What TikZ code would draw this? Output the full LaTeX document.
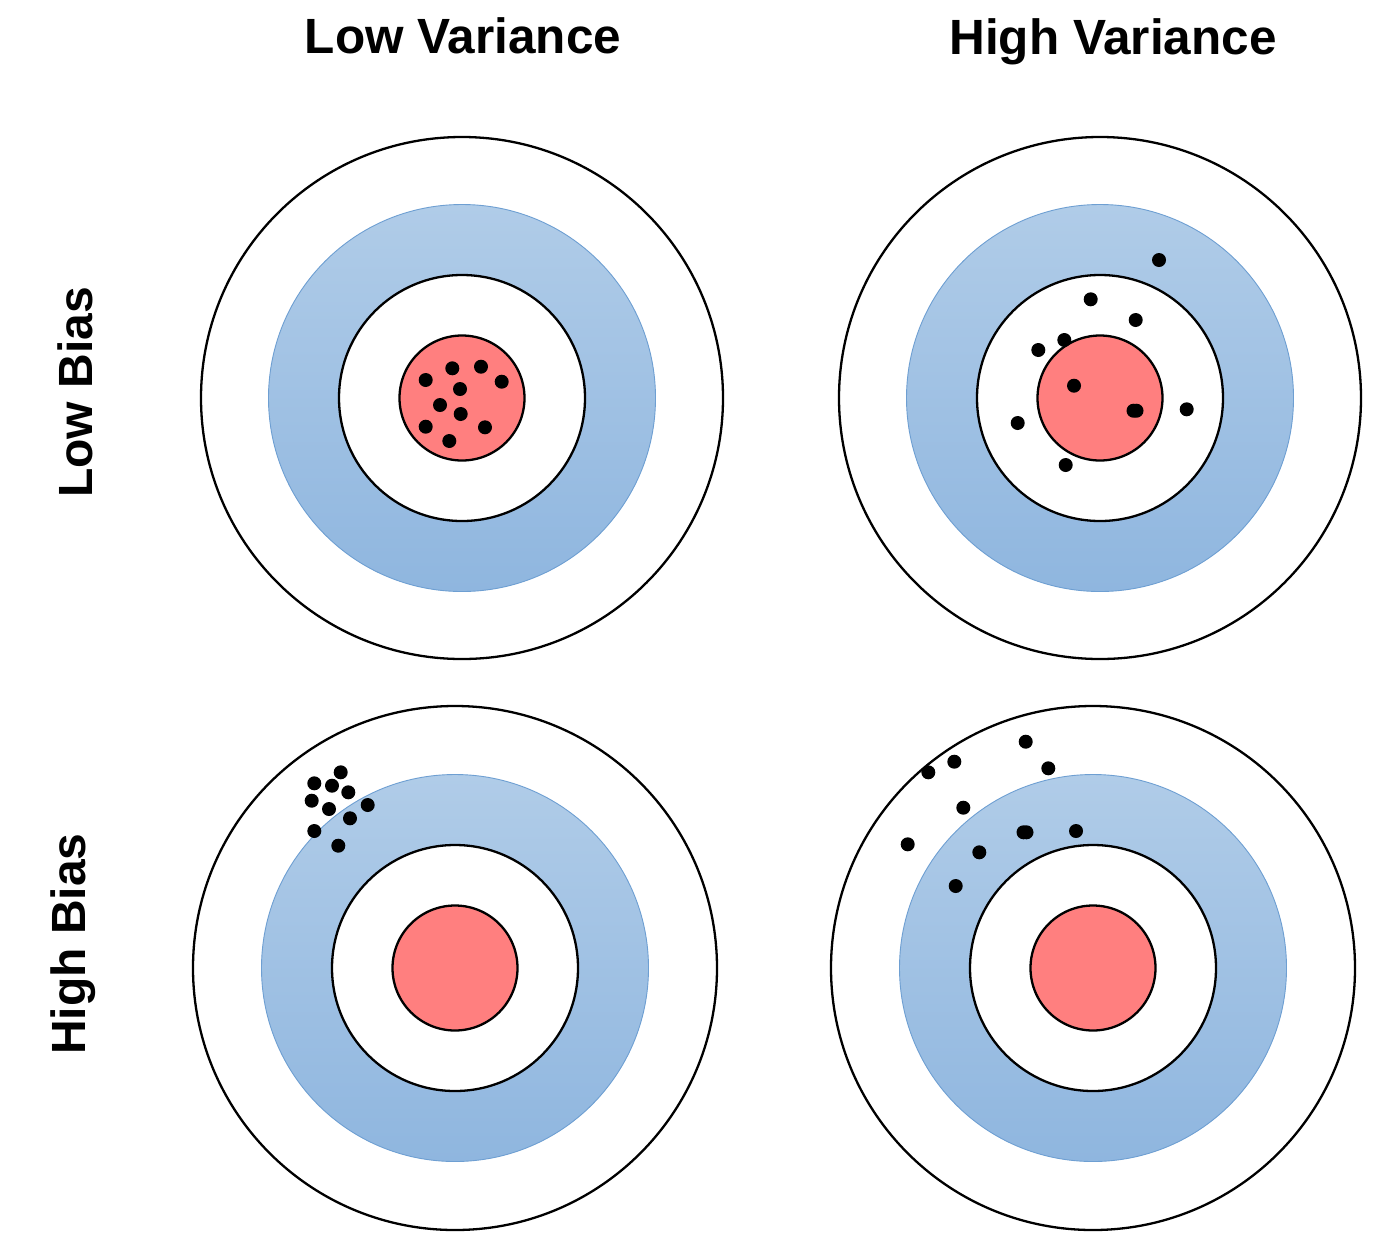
\documentclass[tikz,border=0pt]{standalone}
\usepackage{fontspec}
\setmainfont{Liberation Sans}
\definecolor{bluetop}{HTML}{B0CCE8}
\definecolor{bluebot}{HTML}{8FB6DF}
\definecolor{blueedge}{HTML}{6E9FD2}
\definecolor{redfill}{HTML}{FF7F7F}
\tikzset{
  ring/.style={draw=black, line width=2.3pt},
  blueband/.style={top color=bluetop, bottom color=bluebot, even odd rule},
  bluerim/.style={draw=blueedge, line width=0.9pt},
  dot/.style={fill=black},
  head/.style={font=\bfseries\fontsize{49.5}{60}\selectfont, inner sep=0pt},
  sidehead/.style={font=\bfseries\fontsize{48}{58}\selectfont, inner sep=0pt},
}
\newcommand{\mytarget}[3]{%
  \draw[ring, fill=white] (#1,#2) circle (#3);
  \shade[blueband] (#1,#2) circle (193.5) (#1,#2) circle (123);
  \draw[bluerim] (#1,#2) circle (193.5);
  \draw[ring, fill=white] (#1,#2) circle (123);
  \draw[ring, fill=redfill] (#1,#2) circle (62.5);
}
\begin{document}
\begin{tikzpicture}[x=1pt, y=-1pt]
\useasboundingbox (0,0) rectangle (1400,1251);
\fill[white] (0,0) rectangle (1400,1251);

\mytarget{462}{398}{261}
\mytarget{1100}{398}{261}
\mytarget{455}{968}{262}
\mytarget{1093}{968}{262}

% top-left dots
\foreach \px/\py in {425.7/380, 452.3/368.3, 481/366.7, 501.7/381.7, 460/389, 440/405, 460.7/414, 425.7/426.7, 485/427.3, 449.3/441}
  \fill[dot] (\px,\py) circle (7);

% top-right dots
\foreach \px/\py in {1159/260, 1090.7/299.3, 1135.7/320, 1064.3/340, 1038.3/350, 1074/385.7, 1133.5/410.7, 1136.5/410.7, 1186.7/409.3, 1017.7/423, 1065.7/465}
  \fill[dot] (\px,\py) circle (7);

% bottom-left dots
\foreach \px/\py in {340.7/772.3, 314.3/783.3, 332/785.7, 348.3/792.3, 311.7/800.7, 329/809, 367.7/805, 350/818.3, 314.3/831, 338.3/845.7}
  \fill[dot] (\px,\py) circle (7);

% bottom-right dots
\foreach \px/\py in {1025.7/741.7, 954.3/761.7, 928.3/772.3, 1048.3/768.3, 963.3/807.7, 1023.5/832.3, 1026.5/832.3, 1076/831, 907.7/844.3, 979.3/852.3, 955.7/886}
  \fill[dot] (\px,\py) circle (7);

\node[head, anchor=base] (lowvar) at (463,53) {Low Variance};
\node[head, anchor=base] (highvar) at (1113,54) {High Variance};
\node[sidehead, anchor=base, rotate=90] (lowbias) at (92,392.5) {Low Bias};
\node[sidehead, anchor=base, rotate=90] (highbias) at (85,944) {High Bias};
\end{tikzpicture}
\end{document}
